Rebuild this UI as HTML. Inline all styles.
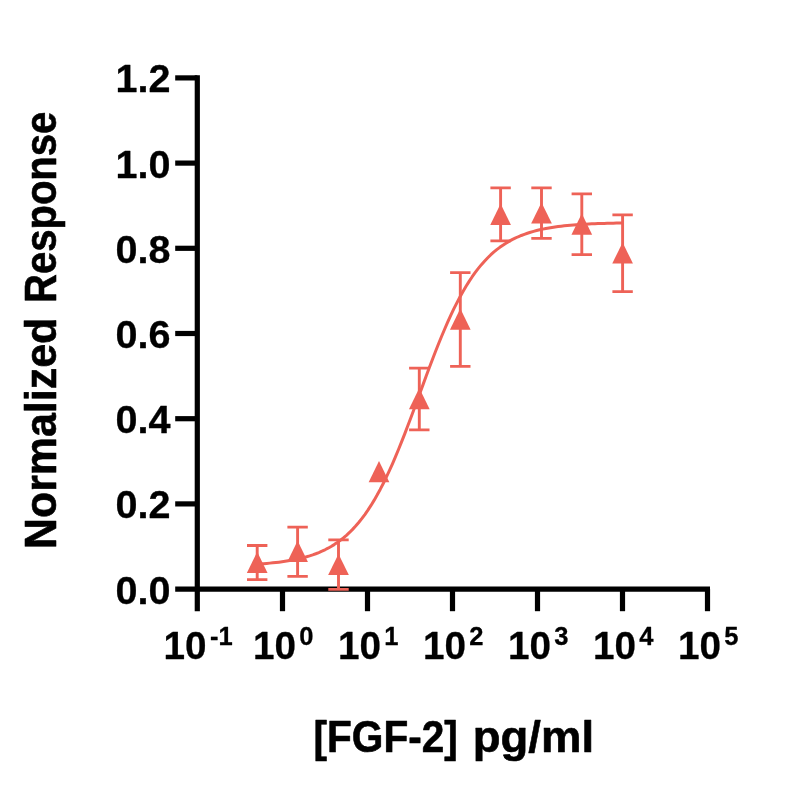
<!DOCTYPE html>
<html lang="en">
<head>
<meta charset="utf-8">
<title>FGF-2 dose response</title>
<style>
html,body{margin:0;padding:0;background:#fff;}
body{width:800px;height:800px;overflow:hidden;}
svg{display:block;}
text{font-family:"Liberation Sans",sans-serif;font-weight:bold;fill:#000;}
</style>
</head>
<body>
<svg width="800" height="800" viewBox="0 0 800 800">
<rect x="0" y="0" width="800" height="800" fill="#ffffff"/>
<g fill="none" stroke="#000" stroke-width="5.20" stroke-linecap="butt">
<path d="M197.30 75.30 V611.20"/>
<path d="M175.20 589.10 H710.00"/>
<path d="M175.20 77.90 H197.30"/>
<path d="M175.20 163.10 H197.30"/>
<path d="M175.20 248.30 H197.30"/>
<path d="M175.20 333.50 H197.30"/>
<path d="M175.20 418.70 H197.30"/>
<path d="M175.20 503.90 H197.30"/>
<path d="M282.50 589.10 V611.20"/>
<path d="M367.50 589.10 V611.20"/>
<path d="M452.50 589.10 V611.20"/>
<path d="M537.50 589.10 V611.20"/>
<path d="M622.50 589.10 V611.20"/>
<path d="M707.50 589.10 V611.20"/>
</g>
<g fill="none" stroke="#EE6257" stroke-width="2.90" stroke-linecap="butt" stroke-linejoin="round">
<path stroke-width="3.00" d="M257.50 564.07 L260.57 563.87 L263.64 563.64 L266.70 563.40 L269.77 563.13 L272.84 562.83 L275.91 562.50 L278.97 562.14 L282.04 561.74 L285.11 561.31 L288.17 560.83 L291.24 560.30 L294.31 559.73 L297.38 559.09 L300.44 558.39 L303.51 557.63 L306.58 556.79 L309.64 555.87 L312.71 554.86 L315.78 553.76 L318.85 552.55 L321.91 551.22 L324.98 549.78 L328.05 548.20 L331.12 546.48 L334.18 544.60 L337.25 542.55 L340.32 540.33 L343.38 537.91 L346.45 535.29 L349.52 532.45 L352.59 529.38 L355.65 526.07 L358.72 522.50 L361.79 518.66 L364.85 514.53 L367.92 510.12 L370.99 505.41 L374.06 500.40 L377.12 495.07 L380.19 489.43 L383.26 483.47 L386.32 477.21 L389.39 470.65 L392.46 463.79 L395.53 456.66 L398.59 449.28 L401.66 441.66 L404.73 433.83 L407.80 425.83 L410.86 417.68 L413.93 409.42 L417.00 401.09 L420.06 392.73 L423.13 384.38 L426.20 376.07 L429.27 367.85 L432.33 359.74 L435.40 351.80 L438.47 344.05 L441.53 336.51 L444.60 329.21 L447.67 322.18 L450.74 315.43 L453.80 308.97 L456.87 302.82 L459.94 296.98 L463.01 291.45 L466.07 286.23 L469.14 281.33 L472.21 276.73 L475.27 272.42 L478.34 268.40 L481.41 264.66 L484.48 261.18 L487.54 257.96 L490.61 254.97 L493.68 252.21 L496.74 249.66 L499.81 247.32 L502.88 245.16 L505.95 243.18 L509.01 241.36 L512.08 239.69 L515.15 238.16 L518.21 236.76 L521.28 235.48 L524.35 234.31 L527.42 233.24 L530.48 232.26 L533.55 231.37 L536.62 230.56 L539.69 229.82 L542.75 229.14 L545.82 228.53 L548.89 227.97 L551.95 227.46 L555.02 227.00 L558.09 226.58 L561.16 226.20 L564.22 225.85 L567.29 225.53 L570.36 225.24 L573.42 224.98 L576.49 224.74 L579.56 224.53 L582.63 224.33 L585.69 224.16 L588.76 223.99 L591.83 223.85 L594.90 223.71 L597.96 223.59 L601.03 223.48 L604.10 223.38 L607.16 223.29 L610.23 223.21 L613.30 223.14 L616.37 223.07 L619.43 223.01 L622.50 222.95"/>
<path d="M257.20 545.55 V579.65 M247.00 545.55 H267.40 M247.00 579.65 H267.40"/>
<path d="M297.60 527.15 V576.35 M287.40 527.15 H307.80 M287.40 576.35 H307.80"/>
<path d="M338.50 539.85 V589.35 M328.30 539.85 H348.70 M328.30 589.35 H348.70"/>
<path d="M419.30 368.15 V429.85 M409.10 368.15 H429.50 M409.10 429.85 H429.50"/>
<path d="M460.30 272.65 V366.35 M450.10 272.65 H470.50 M450.10 366.35 H470.50"/>
<path d="M500.60 187.85 V240.85 M490.40 187.85 H510.80 M490.40 240.85 H510.80"/>
<path d="M541.50 187.85 V238.35 M531.30 187.85 H551.70 M531.30 238.35 H551.70"/>
<path d="M581.80 193.85 V254.65 M571.60 193.85 H592.00 M571.60 254.65 H592.00"/>
<path d="M622.60 214.85 V291.65 M612.40 214.85 H632.80 M612.40 291.65 H632.80"/>
</g>
<g fill="#EE6257">
<path d="M257.20 551.70 L267.55 572.90 L246.85 572.90 Z"/>
<path d="M297.60 540.80 L307.95 562.00 L287.25 562.00 Z"/>
<path d="M338.50 553.90 L348.85 575.10 L328.15 575.10 Z"/>
<path d="M379.00 461.10 L389.35 482.30 L368.65 482.30 Z"/>
<path d="M419.30 388.10 L429.65 409.30 L408.95 409.30 Z"/>
<path d="M460.30 308.50 L470.65 329.70 L449.95 329.70 Z"/>
<path d="M500.60 203.70 L510.95 224.90 L490.25 224.90 Z"/>
<path d="M541.50 202.40 L551.85 223.60 L531.15 223.60 Z"/>
<path d="M581.80 213.50 L592.15 234.70 L571.45 234.70 Z"/>
<path d="M622.60 242.40 L632.95 263.60 L612.25 263.60 Z"/>
</g>
<g font-size="38.60" text-anchor="end" stroke="#000" stroke-width="0.30" stroke-linejoin="round">
<text transform="translate(170.60 92.35) scale(1.0250 1.0000)">1.2</text>
<text transform="translate(170.60 177.55) scale(1.0250 1.0000)">1.0</text>
<text transform="translate(170.60 262.75) scale(1.0250 1.0000)">0.8</text>
<text transform="translate(170.60 347.95) scale(1.0250 1.0000)">0.6</text>
<text transform="translate(170.60 433.15) scale(1.0250 1.0000)">0.4</text>
<text transform="translate(170.60 518.35) scale(1.0250 1.0000)">0.2</text>
<text transform="translate(170.60 603.55) scale(1.0250 1.0000)">0.0</text>
</g>
<g font-size="38.60" stroke="#000" stroke-width="0.30" stroke-linejoin="round">
<text transform="translate(163.60 658.90) scale(1.0023 1.0000)">10<tspan font-size="25.50" dx="3.30" dy="-13.60">-1</tspan></text>
<text transform="translate(253.00 658.90) scale(1.0023 1.0000)">10<tspan font-size="25.50" dx="3.30" dy="-13.60">0</tspan></text>
<text transform="translate(338.00 658.90) scale(1.0023 1.0000)">10<tspan font-size="25.50" dx="3.30" dy="-13.60">1</tspan></text>
<text transform="translate(423.00 658.90) scale(1.0023 1.0000)">10<tspan font-size="25.50" dx="3.30" dy="-13.60">2</tspan></text>
<text transform="translate(508.00 658.90) scale(1.0023 1.0000)">10<tspan font-size="25.50" dx="3.30" dy="-13.60">3</tspan></text>
<text transform="translate(593.00 658.90) scale(1.0023 1.0000)">10<tspan font-size="25.50" dx="3.30" dy="-13.60">4</tspan></text>
<text transform="translate(678.00 658.90) scale(1.0023 1.0000)">10<tspan font-size="25.50" dx="3.30" dy="-13.60">5</tspan></text>
</g>
<g font-size="44.00" stroke="#000" stroke-width="0.60" stroke-linejoin="round">
<text transform="translate(55.80 549.00) rotate(-90)"><tspan x="0" textLength="231.20" lengthAdjust="spacingAndGlyphs">Normalized</tspan> <tspan x="246.00" textLength="191.35" lengthAdjust="spacingAndGlyphs">Response</tspan></text>
<text transform="translate(313.50 751.60)"><tspan x="0" textLength="144.30" lengthAdjust="spacingAndGlyphs">[FGF-2]</tspan> <tspan x="159.30" textLength="121.21" lengthAdjust="spacingAndGlyphs">pg/ml</tspan></text>
</g>
</svg>
</body>
</html>
